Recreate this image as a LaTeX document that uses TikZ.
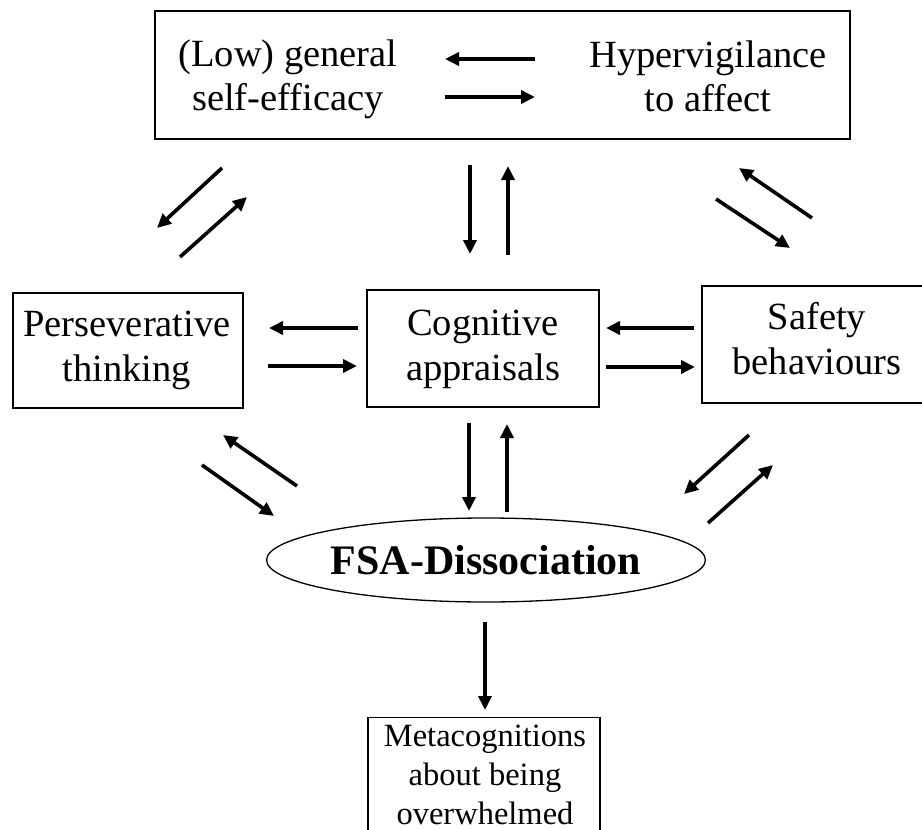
\documentclass[tikz,border=0pt]{standalone}
\usepackage{fontspec}
\setmainfont{Liberation Serif}
\usetikzlibrary{arrows.meta,shapes.geometric}
\begin{document}
\begin{tikzpicture}[x=1pt,y=-1pt,
  box/.style={draw,line width=1.3pt,inner sep=0pt},
  lbl/.style={align=center,anchor=north,font=\fontsize{38.5}{45}\selectfont,inner sep=0pt},
  small/.style={align=center,anchor=north,font=\fontsize{32.5}{39}\selectfont,inner sep=0pt},
  arr/.style={line width=3.6pt,-{Triangle[length=14pt,width=13pt]}},
]
\useasboundingbox (0,0) rectangle (922,830);
\clip (0,0) rectangle (922,830);
% boxes
\node[box,minimum width=695pt,minimum height=128pt] (top) at (502.5,75) {};
\node[lbl,font=\fontsize{38.5}{44}\selectfont] (se) at (288,40) {(Low) general\\self-efficacy};
\node[lbl,font=\fontsize{38.5}{44}\selectfont] (hv) at (708,40.5) {Hypervigilance\\to affect};
\node[box,minimum width=230pt,minimum height=115pt] (pt) at (128,350.5) {};
\node[lbl] (ptt) at (127,310.5) {Perseverative\\thinking};
\node[box,minimum width=232pt,minimum height=117pt] (ca) at (483,348.5) {};
\node[lbl] (cat) at (483,309.5) {Cognitive\\appraisals};
\node[box,minimum width=221pt,minimum height=117pt] (sb) at (812.5,344.5) {};
\node[lbl] (sbt) at (817,302) {Safety\\behaviours};
\node[draw,ellipse,line width=1.3pt,minimum width=408pt,minimum height=84pt,inner sep=0pt,
      font=\fontsize{42}{46}\selectfont\bfseries] (fsa) at (486,560) {FSA-Dissociation};
\node[box,minimum width=232pt,minimum height=160pt,anchor=north] (mb) at (484,717) {};
\node[small] (mt) at (485,724.5) {Metacognitions\\about being\\overwhelmed};
% arrow end points
\coordinate (a1s) at (535,59);  \coordinate (a1e) at (445,59);
\coordinate (a2s) at (445,97);  \coordinate (a2e) at (535,97);
\coordinate (b1s) at (222,168); \coordinate (b1e) at (157,228);
\coordinate (b2s) at (180,257); \coordinate (b2e) at (247,197);
\coordinate (c1s) at (470,165); \coordinate (c1e) at (470,254);
\coordinate (c2s) at (508,255); \coordinate (c2e) at (508,166);
\coordinate (d1s) at (812,218); \coordinate (d1e) at (739,168);
\coordinate (d2s) at (716,199); \coordinate (d2e) at (790,248);
\coordinate (e1s) at (358,328); \coordinate (e1e) at (269,328);
\coordinate (e2s) at (268,366); \coordinate (e2e) at (357,366);
\coordinate (f1s) at (694,328); \coordinate (f1e) at (606,328);
\coordinate (f2s) at (606,367); \coordinate (f2e) at (695,367);
\coordinate (g1s) at (297,486); \coordinate (g1e) at (223,435);
\coordinate (g2s) at (202,465); \coordinate (g2e) at (274,516);
\coordinate (h1s) at (469,423); \coordinate (h1e) at (469,511);
\coordinate (h2s) at (507,512); \coordinate (h2e) at (507,424);
\coordinate (i1s) at (749,435); \coordinate (i1e) at (684,494);
\coordinate (i2s) at (708,523); \coordinate (i2e) at (773,465);
\coordinate (js) at (485,622);  \coordinate (je) at (485,710);
% arrows
\foreach \p in {a1,a2,b1,b2,c1,c2,d1,d2,e1,e2,f1,f2,g1,g2,h1,h2,i1,i2}
  \draw[arr] (\p s) -- (\p e);
\draw[arr] (js) -- (je);
\end{tikzpicture}
\end{document}
